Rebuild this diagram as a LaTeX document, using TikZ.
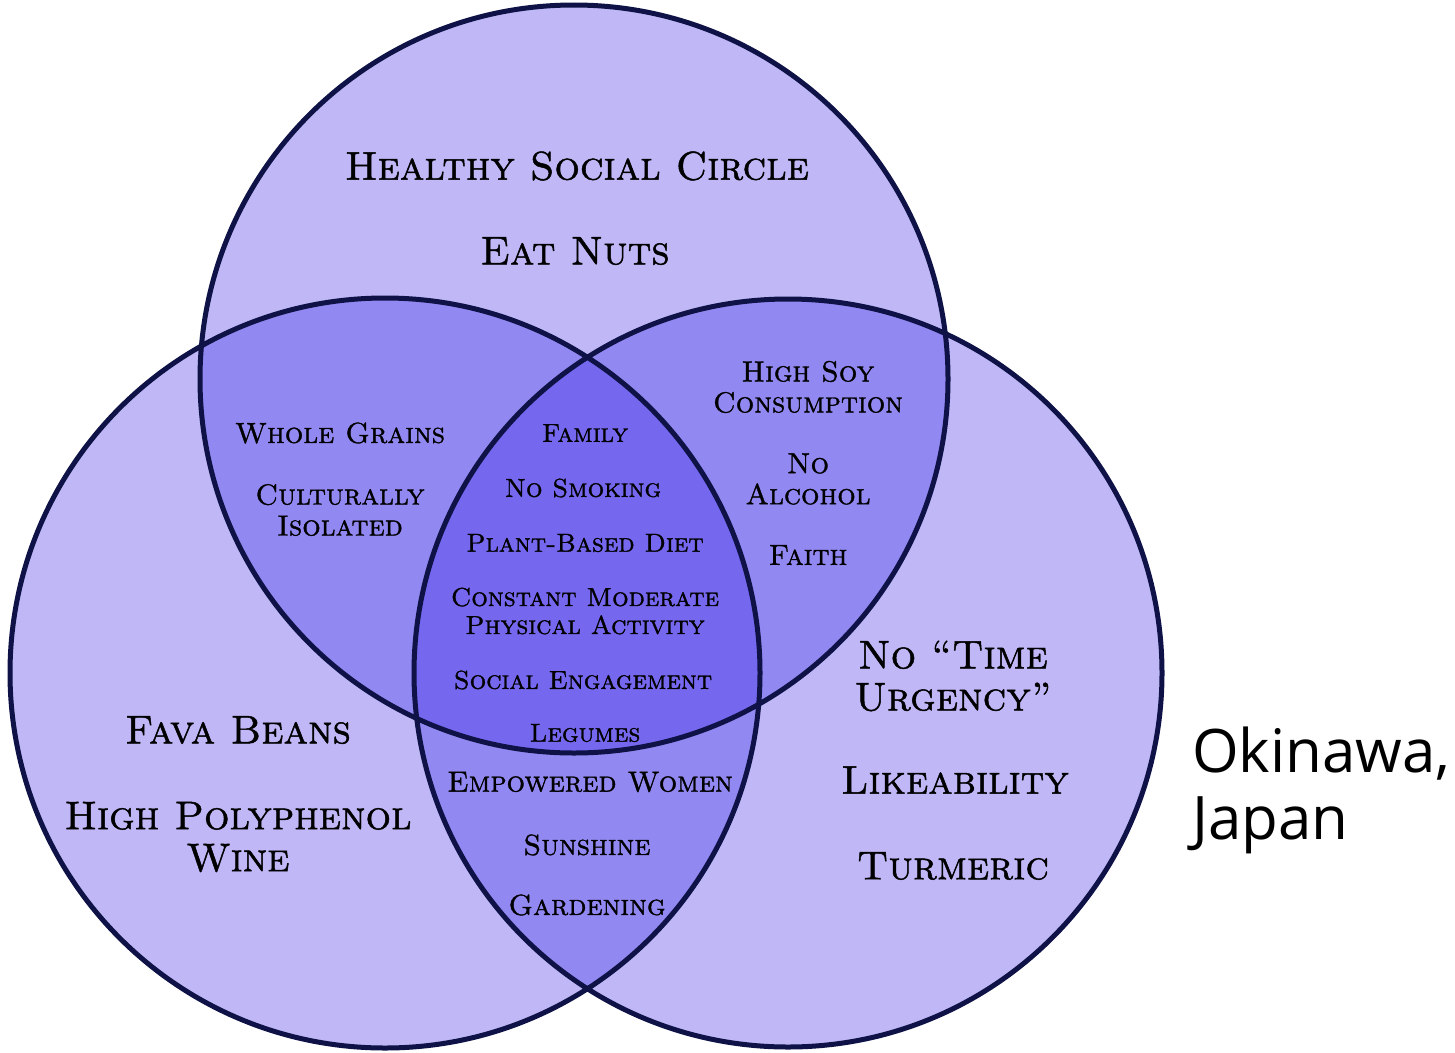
\documentclass[tikz,border=0pt]{standalone}
\usepackage{fontspec}
\newfontfamily\placefont{Open Sans}
\newfontfamily\vennfont{Latin Modern Roman}[Ligatures=TeX, FakeBold=1.2,
  SmallCapsFont={Latin Modern Roman Caps}, SmallCapsFeatures={Ligatures=TeX, FakeBold=1.2}]
\definecolor{venlight}{RGB}{191,183,246}
\definecolor{venmid}{RGB}{146,136,241}
\definecolor{vendark}{RGB}{117,103,238}
\definecolor{venline}{RGB}{14,18,70}
\tikzset{
  biglabel/.style={font=\vennfont\fontsize{40}{42}\selectfont\scshape, align=center, inner sep=0pt},
  midlabel/.style={font=\vennfont\fontsize{29}{31}\selectfont\scshape, align=center, inner sep=0pt},
  smalllabel/.style={font=\vennfont\fontsize{26}{28}\selectfont\scshape, align=center, inner sep=0pt},
}
\def\circT{(574,379) circle (374)}
\def\circL{(385,673) circle (375)}
\def\circR{(788,673) circle (374)}
\begin{document}
\begin{tikzpicture}[x=1pt,y=-1pt]
\useasboundingbox (0,0) rectangle (1455,1052);
% the three sets and their overlaps
\fill[venlight] \circT \circL \circR;
\begin{scope}\clip \circT; \fill[venmid] \circL \circR; \end{scope}
\begin{scope}\clip \circL; \fill[venmid] \circR; \end{scope}
\begin{scope}\clip \circT; \clip \circL; \fill[vendark] \circR; \end{scope}
\draw[venline, line width=5] \circT \circL \circR;
% top only
\node[biglabel] (social) at (577,166) {Healthy Social Circle};
\node[biglabel] (nuts) at (575,251) {Eat Nuts};
% top and left
\node[midlabel] (grains) at (340,433) {Whole Grains};
\node[midlabel] (isolated) at (340,510) {Culturally\\Isolated};
% all three
\node[smalllabel] (family) at (585,433) {Family};
\node[smalllabel] (smoking) at (583,488) {No Smoking};
\node[smalllabel] (plant) at (585,543) {Plant-Based Diet};
\node[smalllabel] (activity) at (585,611) {Constant Moderate\\Physical Activity};
\node[smalllabel] (engage) at (583,680) {Social Engagement};
\node[smalllabel] (legumes) at (585,733) {Legumes};
% top and right
\node[midlabel] (soy) at (808,387) {High Soy\\Consumption};
\node[midlabel] (alcohol) at (808,479) {No\\Alcohol};
\node[midlabel] (faith) at (808,555) {Faith};
% left only
\node[biglabel] (fava) at (238,730) {Fava Beans};
\node[biglabel] (wine) at (238,837) {High Polyphenol\\Wine};
% left and right
\node[midlabel] (women) at (590,782) {Empowered Women};
\node[midlabel] (sunshine) at (587,845) {Sunshine};
\node[midlabel] (garden) at (587,905) {Gardening};
% right only
\node[biglabel] (urgency) at (953,676) {No “Time\\Urgency”};
\node[biglabel] (likeable) at (955,780) {Likeability};
\node[biglabel] (turmeric) at (953,866) {Turmeric};
% place
\node[anchor=west, align=left, inner sep=0pt, font=\placefont\fontsize{60}{67}\selectfont] (place) at (1192,790) {Okinawa,\\Japan};
\end{tikzpicture}
\end{document}
